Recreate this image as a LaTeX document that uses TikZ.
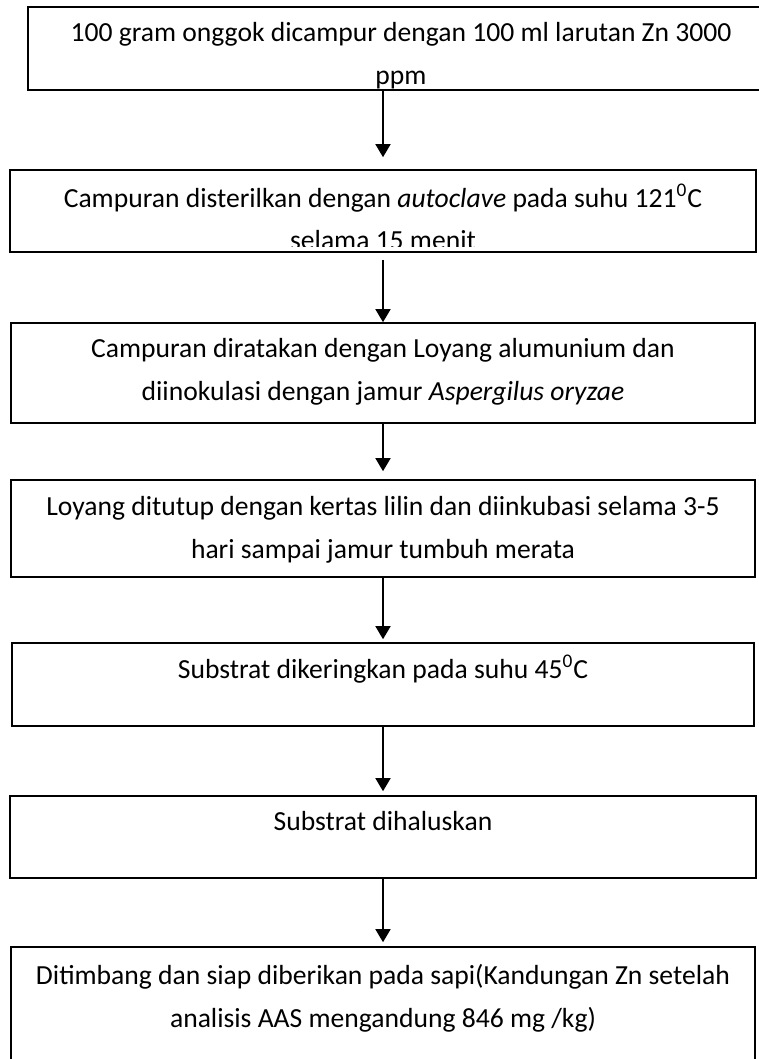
\documentclass[tikz,border=0pt]{standalone}
\usepackage{fontspec}
\setmainfont{Carlito}
\usetikzlibrary{arrows.meta, fit}

\begin{document}
\begin{tikzpicture}[x=0.5pt, y=-0.5pt, >={Triangle[width=7.5pt, length=6.5pt]}]
	\tikzstyle{stepbox} = [draw=black, line width=0.8pt, rectangle, inner sep=0pt]
	\tikzstyle{steptext} = [anchor=north, align=center, inner sep=0pt, font=\fontsize{13.8}{21.3}\selectfont]
	\tikzstyle{flow} = [->, line width=0.75pt]
	
	\useasboundingbox (0,0) rectangle (759,1059);
	
	% process boxes
	\node[stepbox, fit={(28,7) (780,90)}]		(b1) {};
	\node[stepbox, fit={(10,170) (756,252)}]	(b2) {};
	\node[stepbox, fit={(11,323) (755,423)}]	(b3) {};
	\node[stepbox, fit={(11,480) (755,577)}]	(b4) {};
	\node[stepbox, fit={(12,643) (754,726)}]	(b5) {};
	\node[stepbox, fit={(10,796) (756,878)}]	(b6) {};
	\node[stepbox, fit={(11,947) (755,1090)}]	(b7) {};
	
	% texts (the first two are cut off at the bottom)
	\begin{scope}
		\clip (b1.north west) rectangle ([yshift=1pt]b1.south east);
		\node[steptext] at (401, 22) (t1) {100 gram onggok dicampur dengan 100 ml larutan Zn 3000\\ppm};
	\end{scope}
	\begin{scope}
		\clip (b2.north west) rectangle ([yshift=3pt]b2.south east);
		\node[steptext] at (383, 184) (t2) {Campuran disterilkan dengan \textit{autoclave} pada suhu 121\textsuperscript{0}C\\selama 15 menit};
	\end{scope}
	\node[steptext] at (383, 338) (t3) {Campuran diratakan dengan Loyang alumunium dan\\diinokulasi dengan jamur \textit{Aspergilus oryzae}};
	\node[steptext] at (383, 496) (t4) {Loyang ditutup dengan kertas lilin dan diinkubasi selama 3-5\\hari sampai jamur tumbuh merata};
	\node[steptext] at (383, 655) (t5) {Substrat dikeringkan pada suhu 45\textsuperscript{0}C};
	\node[steptext] at (383, 811) (t6) {Substrat dihaluskan};
	\node[steptext] at (383, 964) (t7) {Ditimbang dan siap diberikan pada sapi(Kandungan Zn setelah\\analisis AAS mengandung 846 mg /kg)};
	
	% arrows
	\draw[flow, shorten >=6pt]			(b2.north |- b1.south)	-- (b2.north);
	\draw[flow, shorten <=3.5pt]		(b2.south)	-- (b3.north);
	\draw[flow, shorten >=4pt]			(b3.south)	-- (b4.north);
	\draw[flow, shorten >=1.5pt]		(b4.south)	-- (b5.north);
	\draw[flow, shorten >=2pt]			(b5.south)	-- (b6.north);
	\draw[flow, shorten >=2pt]			(b6.south)	-- (b7.north);
\end{tikzpicture}
\end{document}
